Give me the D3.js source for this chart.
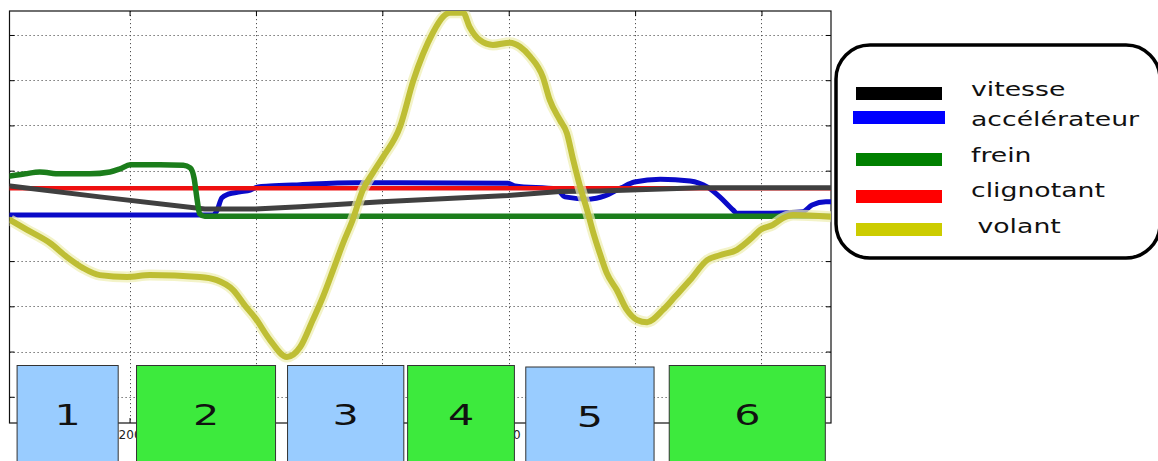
<!DOCTYPE html>
<html><head><meta charset="utf-8">
<script src="https://cdn.jsdelivr.net/npm/d3@7"></script>
<style>html,body{margin:0;padding:0;background:#fff;overflow:hidden}svg{display:block}</style>
</head><body><svg id="c" width="1158" height="461"></svg>
<script>
// ---------- data ----------
const xTicks = [200, 400, 600, 800, 1000, 1200];
const yTicks = [-4, -3, -2, -1, 0, 1, 2, 3, 4];
const seriesNames = ["vitesse", "accélérateur", "frein", "clignotant", "volant"];

const vitesseT = [11, 153, 319, 399, 470, 599, 799, 881, 944, 1103, 1310];
const vitesseV = [0.66, 0.42, 0.15, 0.15, 0.20, 0.31, 0.45, 0.54, 0.55, 0.62, 0.62];

const accelT = [11, 304, 332, 338, 346, 356, 375, 391, 403, 422, 470, 557, 628, 799, 810, 876, 889, 928, 952, 978, 999, 1040, 1087, 1114, 1134, 1155, 1161, 1218, 1265, 1280, 1302, 1310];
const accelV = [0.02, 0.02, 0.02, 0.11, 0.40, 0.48, 0.53, 0.57, 0.64, 0.66, 0.69, 0.73, 0.73, 0.72, 0.66, 0.59, 0.42, 0.37, 0.44, 0.62, 0.75, 0.81, 0.77, 0.64, 0.42, 0.13, 0.06, 0.06, 0.09, 0.24, 0.31, 0.31];

const freinT = [11, 35, 58, 90, 137, 169, 185, 201, 248, 285, 296, 302, 307, 311, 319, 1310];
const freinV = [0.88, 0.93, 0.97, 0.93, 0.93, 0.97, 1.04, 1.13, 1.13, 1.12, 1.06, 0.84, 0.35, 0.04, -0.01, -0.01];

const clignoT = [11, 1310];
const clignoV = [0.61, 0.61];

const volantT = [11, 38, 74, 101, 126, 153, 196, 232, 311, 338, 364, 383, 399, 422, 449, 470, 490, 506, 522, 538, 553, 569, 585, 601, 628, 649, 680, 696, 707, 728, 738, 754, 775, 802, 818, 834, 854, 865, 881, 892, 902, 913, 924, 934, 944, 955, 971, 987, 1003, 1019, 1044, 1063, 1087, 1114, 1134, 1161, 1186, 1198, 1218, 1234, 1250, 1310];
const volantV = [-0.09, -0.31, -0.60, -0.91, -1.15, -1.31, -1.35, -1.31, -1.35, -1.42, -1.64, -1.99, -2.26, -2.74, -3.12, -2.90, -2.30, -1.79, -1.20, -0.60, -0.09, 0.57, 0.95, 1.30, 1.97, 2.99, 4.05, 4.40, 4.49, 4.49, 4.18, 3.89, 3.78, 3.83, 3.74, 3.52, 3.07, 2.56, 2.12, 1.83, 1.24, 0.64, 0.13, -0.38, -0.82, -1.26, -1.64, -2.08, -2.30, -2.35, -2.08, -1.79, -1.42, -0.98, -0.87, -0.75, -0.47, -0.31, -0.20, -0.05, 0.02, -0.02];

const phaseLabels = ["1", "2", "3", "4", "5", "6"];
const phaseStart = [22, 211, 450, 640, 827, 1054];
const phaseEnd = [182, 431, 634, 809, 1030, 1301];
const phaseKind = ["a", "b", "a", "b", "a", "b"];

// ---------- layout / style ----------
const W = 1158, H = 461;
const L = 9.5, R = 831, T = 11, B = 423;
const x = d3.scaleLinear().domain([10, 1310]).range([L, R]);
const y = d3.scaleLinear().domain([-4.58, 4.53]).range([B, T]);

const svg = d3.select("#c");
svg.append("rect").attr("width", W).attr("height", H).attr("fill", "#fff");

svg.append("defs").append("clipPath").attr("id", "plotclip")
  .append("rect").attr("x", L).attr("y", T).attr("width", R - L).attr("height", B - T);

// grid
const grid = svg.append("g").attr("stroke", "#333").attr("stroke-width", 1)
  .attr("stroke-dasharray", "1.2,2.8").attr("opacity", 0.85);
grid.selectAll("line.v").data(xTicks).join("line")
  .attr("x1", d => Math.round(x(d)) + 0.5).attr("x2", d => Math.round(x(d)) + 0.5)
  .attr("y1", T).attr("y2", B);
grid.selectAll("line.h").data(yTicks).join("line")
  .attr("y1", d => Math.round(y(d)) + 0.5).attr("y2", d => Math.round(y(d)) + 0.5)
  .attr("x1", L).attr("x2", R);

// axes (inward ticks)
const axB = svg.append("g").attr("transform", `translate(0,${B})`)
  .call(d3.axisBottom(x).tickValues(xTicks).tickSize(-5).tickSizeOuter(0).tickPadding(7.5));
const axT = svg.append("g").attr("transform", `translate(0,${T})`)
  .call(d3.axisTop(x).tickValues(xTicks).tickSize(-5).tickSizeOuter(0).tickFormat(""));
const axL = svg.append("g").attr("transform", `translate(${L},0)`)
  .call(d3.axisLeft(y).tickValues(yTicks).tickSize(-5).tickSizeOuter(0).tickFormat(""));
const axR = svg.append("g").attr("transform", `translate(${R},0)`)
  .call(d3.axisRight(y).tickValues(yTicks).tickSize(-5).tickSizeOuter(0).tickFormat(""));
[axB, axT, axL, axR].forEach(a => {
  a.select(".domain").remove();
  a.selectAll(".tick line").attr("stroke", "#000");
});
axB.selectAll("text").attr("font-family", "DejaVu Sans, sans-serif").attr("font-size", 12).attr("fill", "#222");

svg.append("rect").attr("x", L).attr("y", T).attr("width", R - L).attr("height", B - T)
  .attr("fill", "none").attr("stroke", "#111").attr("stroke-width", 1.2);

// lines
const plot = svg.append("g").attr("clip-path", "url(#plotclip)");
const mk = (ts, vs) => ts.map((t, i) => [t, vs[i]]);
const smooth = d3.line().x(d => x(d[0])).y(d => y(d[1])).curve(d3.curveMonotoneX);
const straight = d3.line().x(d => x(d[0])).y(d => y(d[1]));

const series = [
  { data: mk(accelT, accelV), color: "#0a0ac8", w: 5, gen: smooth },
  { data: mk(clignoT, clignoV), color: "#ee1010", w: 4.5, gen: straight },
  { data: mk(vitesseT, vitesseV), color: "#404040", w: 5, gen: straight },
  { data: mk(freinT, freinV), color: "#1b7d1b", w: 5.5, gen: smooth },
];
series.forEach(s => {
  plot.append("path").attr("d", s.gen(s.data)).attr("fill", "none")
    .attr("stroke", s.color).attr("stroke-width", s.w)
    .attr("stroke-linejoin", "round").attr("stroke-linecap", "round");
});
const vol = mk(volantT, volantV);
plot.append("path").attr("d", smooth(vol)).attr("fill", "none")
  .attr("stroke", "#eeeeb0").attr("stroke-width", 11).attr("stroke-linejoin", "round").attr("opacity", 0.7);
plot.append("path").attr("d", smooth(vol)).attr("fill", "none")
  .attr("stroke", "#bebe34").attr("stroke-width", 6).attr("stroke-linejoin", "round").attr("stroke-linecap", "round");

// phase boxes
const boxTop = 365.5;
const boxes = svg.append("g");
const spans = [];
phaseLabels.forEach((lab, i) => {
  const x0 = x(phaseStart[i]), x1 = x(phaseEnd[i]);
  spans.push([x0, x1]);
  boxes.append("rect").attr("x", x0).attr("y", boxTop + (i === 4 ? 1.5 : 0))
    .attr("width", x1 - x0).attr("height", 120)
    .attr("fill", phaseKind[i] === "a" ? "#99ccff" : "#3dea3d")
    .attr("stroke", "#333").attr("stroke-width", 1);
  const cx = (x0 + x1) / 2;
  boxes.append("text").text(lab)
    .attr("transform", `translate(${cx},${425 + (i === 4 ? 2 : 0)}) scale(1.5,1)`)
    .attr("text-anchor", "middle").attr("font-family", "DejaVu Sans, sans-serif")
    .attr("font-size", 27.5).attr("fill", "#111");
});
// tick labels fully hidden behind a phase box are not drawn
axB.selectAll(".tick text").each(function(d) {
  const bb = this.getBBox();
  const cx = x(d);
  const a = cx + bb.x, b = cx + bb.x + bb.width;
  if (spans.some(([s0, s1]) => a >= s0 && b <= s1)) d3.select(this).remove();
});

// legend
const lg = svg.append("g");
lg.append("rect").attr("x", 836).attr("y", 45).attr("width", 324).attr("height", 213)
  .attr("rx", 34).attr("ry", 34).attr("fill", "#fff").attr("stroke", "#000").attr("stroke-width", 3.5);
const legendColors = ["#000000", "#0000ff", "#008000", "#ff0000", "#cccc00"];
const swTop = [87, 111, 153, 190, 223];
const txtBase = [96, 126, 162, 197, 233];
seriesNames.forEach((n, i) => {
  const wide = i === 1;
  lg.append("rect").attr("x", wide ? 853 : 856).attr("y", swTop[i])
    .attr("width", wide ? 92 : 86).attr("height", 13).attr("fill", legendColors[i]);
  lg.append("text").text(n)
    .attr("transform", `translate(${i === 4 ? 977.5 : 971},${txtBase[i]}) scale(1.335,1)`)
    .attr("font-family", "DejaVu Sans, sans-serif").attr("font-size", 20).attr("fill", "#111");
});
</script>
</body></html>
